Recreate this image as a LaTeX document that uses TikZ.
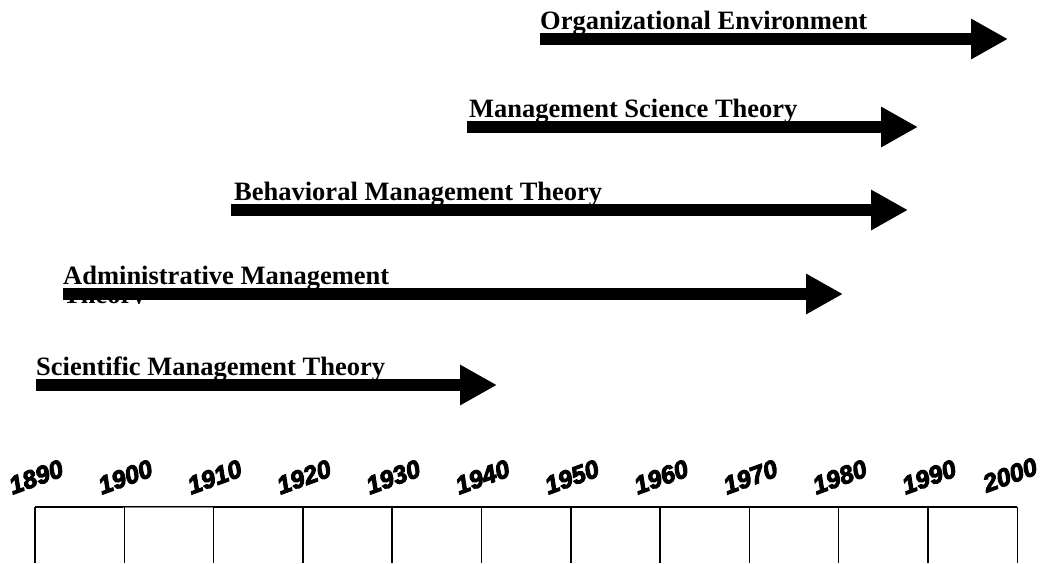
\documentclass[tikz,border=0pt]{standalone}
\usepackage{fontspec}
\setmainfont{Liberation Serif}
\newfontfamily\yearfont[FakeBold=4]{Liberation Sans Bold Italic}
\usetikzlibrary{arrows.meta}

\begin{document}
\begin{tikzpicture}[
				x=1pt, y=-1pt,
				theorylabel/.style={anchor=base west, inner sep=0pt, font=\fontsize{26.5}{30}\selectfont\bfseries},
				eraarrow/.style={line width=12.5pt, -{Triangle[length=37pt, width=38pt]}},
				yearlabel/.style={font=\yearfont\fontsize{25}{27}\selectfont, rotate=20, inner sep=0pt},
				cellline/.style={line width=1.5pt},
				]
				\useasboundingbox (0,0) rectangle (1042,563);
				
				%Labels
				\node[theorylabel](orgenv) at (540,29){Organizational Environment};
				\node[theorylabel](mgmtsci) at (469,117){Management Science Theory};
				\node[theorylabel](behav) at (234,200){Behavioral Management Theory};
				\begin{scope}
				\clip (55,300) rectangle (160,303.5);
				\node[theorylabel](adminrest) at (63,303){Theory};
				\end{scope}
				\node[theorylabel](admin) at (63,284){Administrative Management};
				\node[theorylabel](scient) at (36,375){Scientific Management Theory};
				
				%Arrows
				\coordinate (orgenvS) at (540,39);   \coordinate (orgenvE) at (1008,39);
				\coordinate (mgmtsciS) at (467,127); \coordinate (mgmtsciE) at (918,127);
				\coordinate (behavS) at (231,210);   \coordinate (behavE) at (908,210);
				\coordinate (adminS) at (63,294);    \coordinate (adminE) at (843,294);
				\coordinate (scientS) at (36,385);   \coordinate (scientE) at (497,385);
				
				\draw[eraarrow] (orgenvS) -- (orgenvE);
				\draw[eraarrow] (mgmtsciS) -- (mgmtsciE);
				\draw[eraarrow] (behavS) -- (behavE);
				\draw[eraarrow] (adminS) -- (adminE);
				\draw[eraarrow] (scientS) -- (scientE);
				
				%Years
				\foreach \yr [count=\i from 0] in {1890,1900,...,1990}
				\node[yearlabel](year\yr) at (36+89.3*\i,477){\yr};
				\node[yearlabel](year2000) at (1010,475){2000};
				
				%Decade cells
				\draw[cellline] (35,507) -- (1017.3,507);
				\draw[cellline, gray] (123.3,507.5) -- (212.6,507.5);
				\foreach \i in {0,...,11}
				\draw[cellline] (35+89.3*\i,507) -- (35+89.3*\i,563);
				
			\end{tikzpicture}
\end{document}
